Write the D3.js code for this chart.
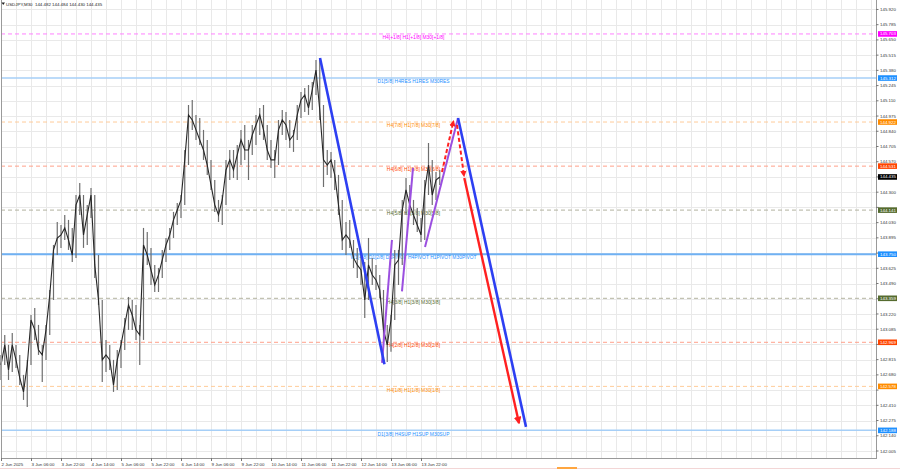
<!DOCTYPE html>
<html><head><meta charset="utf-8">
<script src="https://cdn.jsdelivr.net/npm/d3@7"></script>
<style>body{margin:0;background:#fff;}svg{display:block;font-family:"Liberation Sans",Arial,sans-serif;}</style>
</head><body><svg id="c" width="900" height="469"></svg>
<script>
// ---------- data ----------
const title = "USDJPY,M30  144.482 144.484 144.430 144.435";
const timeLabels = ["2 Jun 2025","3 Jun 06:00","3 Jun 22:00","4 Jun 14:00","5 Jun 06:00","5 Jun 22:00","6 Jun 14:00","9 Jun 06:00","9 Jun 22:00","10 Jun 14:00","11 Jun 06:00","11 Jun 22:00","12 Jun 14:00","13 Jun 06:00","13 Jun 22:00"];
const timeLabelBars = [0,32,64,96,128,160,192,224,256,288,320,352,384,416,448];
const priceTicks = [142.005,142.140,142.275,142.410,142.545,142.680,142.815,142.950,143.085,143.220,143.355,143.490,143.625,143.760,143.895,144.030,144.165,144.300,144.435,144.570,144.705,144.840,144.975,145.110,145.245,145.380,145.515,145.650,145.785,145.920];
const sampleBars = d3.range(0, 472, 4);
const highs = [142.857,143.034,142.946,143.052,142.946,142.857,142.680,142.813,143.211,143.273,143.123,142.946,143.123,143.433,143.832,144.036,144.009,144.098,144.054,143.983,144.275,144.382,144.275,144.187,144.337,144.275,143.743,143.344,142.990,142.946,142.813,142.901,142.990,143.185,143.371,143.344,143.300,143.123,143.983,143.947,143.806,143.655,143.628,143.788,143.894,143.983,144.125,144.204,144.275,144.674,145.073,145.118,144.985,144.958,144.852,144.763,144.586,144.408,144.231,144.275,144.586,144.674,144.674,144.719,144.852,144.896,144.763,144.896,144.985,145.047,145.073,144.896,144.763,144.674,144.940,145.029,145.011,144.940,144.852,145.073,145.188,145.224,145.250,145.277,145.472,145.490,145.073,144.674,144.657,144.586,144.453,144.231,144.036,144.054,143.876,143.806,143.743,143.681,143.894,143.717,143.655,143.566,143.433,143.123,143.211,143.788,143.788,144.231,144.426,144.364,144.231,144.160,144.071,144.408,144.736,144.586,144.479,144.497];
const lows = [142.635,142.768,142.635,142.706,142.742,142.591,142.458,142.396,142.768,142.990,142.857,142.617,142.813,143.034,143.344,143.743,143.806,143.876,143.788,143.681,143.717,144.098,143.806,143.832,144.071,143.540,143.300,142.617,142.706,142.724,142.529,142.547,142.742,142.901,143.079,143.079,142.990,142.768,142.990,143.655,143.477,143.415,143.415,143.540,143.681,143.788,143.894,144.009,144.071,144.187,144.541,144.852,144.763,144.719,144.586,144.453,144.320,144.125,144.036,144.009,144.187,144.408,144.426,144.408,144.541,144.586,144.408,144.630,144.719,144.807,144.763,144.586,144.515,144.426,144.541,144.807,144.763,144.692,144.657,144.763,144.958,145.011,144.985,145.029,145.162,144.940,144.346,144.453,144.426,144.320,144.098,143.788,143.743,143.806,143.628,143.540,143.477,143.185,143.344,143.477,143.433,143.362,142.990,142.795,142.884,143.167,143.477,143.655,144.098,144.098,144.009,143.947,143.859,143.876,144.275,144.187,144.231,144.364];
const closes = [142.768,142.946,142.724,142.946,142.813,142.653,142.529,142.768,143.167,143.079,142.901,142.857,143.079,143.389,143.788,143.894,143.921,143.983,143.876,143.743,144.187,144.275,143.921,144.098,144.275,143.655,143.344,142.813,142.857,142.813,142.591,142.813,142.946,143.123,143.300,143.211,143.079,143.034,143.832,143.743,143.610,143.477,143.566,143.699,143.832,143.921,144.054,144.142,144.231,144.586,144.985,144.940,144.852,144.763,144.674,144.541,144.364,144.187,144.098,144.231,144.497,144.586,144.497,144.630,144.763,144.674,144.674,144.807,144.896,144.985,144.852,144.674,144.586,144.586,144.852,144.940,144.896,144.763,144.807,144.985,145.118,145.162,145.047,145.206,145.383,145.029,144.586,144.541,144.586,144.453,144.187,143.876,143.921,143.876,143.717,143.655,143.610,143.344,143.655,143.566,143.522,143.433,143.079,142.946,143.167,143.655,143.699,144.142,144.320,144.187,144.098,144.009,143.921,144.320,144.541,144.275,144.408,144.435];
const levels = [145.703,145.312,144.922,144.531,144.141,143.750,143.359,142.969,142.578,142.188];
const levelNames = ["H4[+1/8] H1[+1/8] M30[+1/8]","D1[5/8] H4RES H1RES M30RES","H4[7/8] H1[7/8] M30[7/8]","H4[6/8] H1[6/8] M30[6/8]","H4[5/8] H1[5/8] M30[5/8]","W1[4/8] D1[2/8] D1PIVOT H4PIVOT H1PIVOT M30PIVOT","H4[3/8] H1[3/8] M30[3/8]","H4[2/8] H1[2/8] M30[2/8]","H4[1/8] H1[1/8] M30[1/8]","D1[3/8] H4SUP H1SUP M30SUP"];
const levelKinds = ["plus","res","o","r","g","pivot","g","r","o","res"];
const levelLabelBar = 440;
const lastPrice = 144.435;
// wave drawings: [bar, price]
const blueLines = [[[340.3,145.490],[409.0,142.775]],[[487.5,144.958],[560.0,142.219]]];
const purpleLines = [[[406.4,142.786],[417.0,143.876]],[[427.7,143.420],[439.5,144.515]],[[452.3,143.814],[487.5,144.958]]];
const redDashed = [[[470.4,144.479],[482.6,144.930]],[[486.4,144.896],[493.9,144.444]]];
const redSolid = [[[494.2,144.425],[552.5,142.254]]];

// ---------- styles ----------
const kindStyle = {
  plus:{line:"#ff80ff",dash:"4,3",w:1,lab:"#ff00ff",txt:"#ff00ff"},
  res:{line:"#a6cff7",dash:null,w:1.5,lab:"#1e90ff",txt:"#1e90ff"},
  pivot:{line:"#6fb1f3",dash:null,w:2,lab:"#1e90ff",txt:"#1e90ff"},
  o:{line:"#ffcc99",dash:"4,3",w:1,lab:"#ff8c00",txt:"#ff8c00"},
  r:{line:"#ffa08a",dash:"4,3",w:1,lab:"#ff4500",txt:"#ff4500"},
  g:{line:"#b3b39f",dash:"4,3",w:1,lab:"#556b2f",txt:"#556b2f"}
};

const svg = d3.select("#c");
const L = 1, R = 876, T = 0, B = 458;
const x = d3.scaleLinear().domain([0, 933]).range([L, L + 933 * 0.9375]);
const y = d3.scaleLinear().domain([141.943, 146.004]).range([B, T]);
const fs = 4.4;

svg.append("rect").attr("width",900).attr("height",469).attr("fill","#fff");

// grid
const g = svg.append("g");
g.selectAll(".vg").data(d3.range(16, 933, 16)).join("line")
  .attr("x1",d=>Math.round(x(d))+0.5).attr("x2",d=>Math.round(x(d))+0.5).attr("y1",T).attr("y2",B)
  .attr("stroke","#e9e9e9").attr("stroke-width",1);
g.selectAll(".hg").data(priceTicks).join("line")
  .attr("x1",L).attr("x2",R).attr("y1",d=>Math.round(y(d))+0.5).attr("y2",d=>Math.round(y(d))+0.5)
  .attr("stroke","#e9e9e9").attr("stroke-width",1);

// levels
const lv = svg.append("g");
levels.forEach((p,i)=>{
  const s = kindStyle[levelKinds[i]];
  lv.append("line").attr("x1",L).attr("x2",R).attr("y1",y(p)).attr("y2",y(p))
    .attr("stroke",s.line).attr("stroke-width",s.w).attr("stroke-dasharray",s.dash);
});

// price bars
const pg = svg.append("g");
pg.selectAll(".wk").data(sampleBars).join("line")
  .attr("x1",d=>x(d)).attr("x2",d=>x(d))
  .attr("y1",(d,i)=>y(highs[i])).attr("y2",(d,i)=>y(lows[i]))
  .attr("stroke","#6e6e6e").attr("stroke-width",1.2);
pg.append("path").datum(sampleBars)
  .attr("d", d3.line().x(d=>x(d)).y((d,i)=>y(closes[i])))
  .attr("fill","none").attr("stroke","#262626").attr("stroke-width",1.1);

// level text labels
levels.forEach((p,i)=>{
  const s = kindStyle[levelKinds[i]];
  lv.append("text").attr("x",x(levelLabelBar)).attr("y",y(p)+5.2)
    .attr("text-anchor","middle").attr("font-size",4.9).attr("fill",s.txt).text(levelNames[i]);
});

// markers
const defs = svg.append("defs");
defs.append("marker").attr("id","arr").attr("viewBox","0 0 10 10").attr("refX",8).attr("refY",5)
  .attr("markerWidth",3.2).attr("markerHeight",3.2).attr("orient","auto")
  .append("path").attr("d","M0,0L10,5L0,10z").attr("fill","#ff2020");

const ln = d3.line().x(d=>x(d[0])).y(d=>y(d[1]));
const dg = svg.append("g");
dg.selectAll(".pl").data(purpleLines).join("path").attr("d",ln)
  .attr("stroke","#9b4fe0").attr("stroke-width",2).attr("fill","none");
dg.selectAll(".bl").data(blueLines).join("path").attr("d",ln)
  .attr("stroke","#2d3ff2").attr("stroke-width",2.6).attr("fill","none");
dg.selectAll(".rd").data(redDashed).join("path").attr("d",ln)
  .attr("stroke","#ff2020").attr("stroke-width",2).attr("stroke-dasharray","4,2.5").attr("fill","none")
  .attr("marker-end","url(#arr)");
dg.selectAll(".rs").data(redSolid).join("path").attr("d",ln)
  .attr("stroke","#ff2020").attr("stroke-width",2.4).attr("fill","none")
  .attr("marker-end","url(#arr)");

// frame
svg.append("line").attr("x1",L+0.5).attr("x2",L+0.5).attr("y1",T).attr("y2",B).attr("stroke","#9a9a9a");
svg.append("line").attr("x1",R+0.5).attr("x2",R+0.5).attr("y1",T).attr("y2",B+0.5).attr("stroke","#9a9a9a");
svg.append("line").attr("x1",L).attr("x2",R+1).attr("y1",B+0.5).attr("y2",B+0.5).attr("stroke","#9a9a9a");

// right axis (tick labels hidden where a level tag covers them)
const tagged = levels.concat([lastPrice]);
const visibleTicks = priceTicks.filter(t => tagged.every(p => Math.abs(y(t) - y(p)) >= 4.2));
const ra = svg.append("g");
ra.selectAll(".tk").data(priceTicks).join("line")
  .attr("x1",R).attr("x2",R+2.5).attr("y1",d=>y(d)).attr("y2",d=>y(d)).attr("stroke","#777");
ra.selectAll(".tl").data(visibleTicks).join("text")
  .attr("x",880).attr("y",d=>y(d)).attr("dy","0.35em").attr("font-size",fs).attr("fill","#333")
  .text(d=>d.toFixed(3));
levels.forEach((p,i)=>{
  const s = kindStyle[levelKinds[i]];
  ra.append("rect").attr("x",878).attr("y",y(p)-2.8).attr("width",19).attr("height",5.6).attr("fill",s.lab);
  ra.append("text").attr("x",880).attr("y",y(p)).attr("dy","0.35em").attr("font-size",fs).attr("fill","#fff").text(p.toFixed(3));
});
ra.append("rect").attr("x",878).attr("y",y(lastPrice)-2.8).attr("width",19).attr("height",5.6).attr("fill","#000");
ra.append("text").attr("x",880).attr("y",y(lastPrice)).attr("dy","0.35em").attr("font-size",fs).attr("fill","#fff").text(lastPrice.toFixed(3));

// bottom axis
const ba = svg.append("g");
ba.selectAll(".bt").data(timeLabelBars).join("line")
  .attr("x1",d=>x(d)+0.5).attr("x2",d=>x(d)+0.5).attr("y1",B).attr("y2",B+3).attr("stroke","#777");
ba.selectAll(".btl").data(timeLabelBars).join("text")
  .attr("x",d=>x(d)+0.5).attr("y",465.5).attr("font-size",fs).attr("fill","#333")
  .text((d,i)=>timeLabels[i]);

// title
svg.append("path").attr("d","M1.5,2.5L5,2.5L3.25,5z").attr("fill","#222");
svg.append("text").attr("x",6).attr("y",6).attr("font-size",fs).attr("fill","#222").attr("xml:space","preserve").text(title);

// bottom strip
svg.append("line").attr("x1",0).attr("x2",900).attr("y1",468.5).attr("y2",468.5).attr("stroke","#f3d6d6");
svg.append("rect").attr("x",557).attr("y",467).attr("width",20).attr("height",2).attr("fill","#ffa640");
</script></body></html>
